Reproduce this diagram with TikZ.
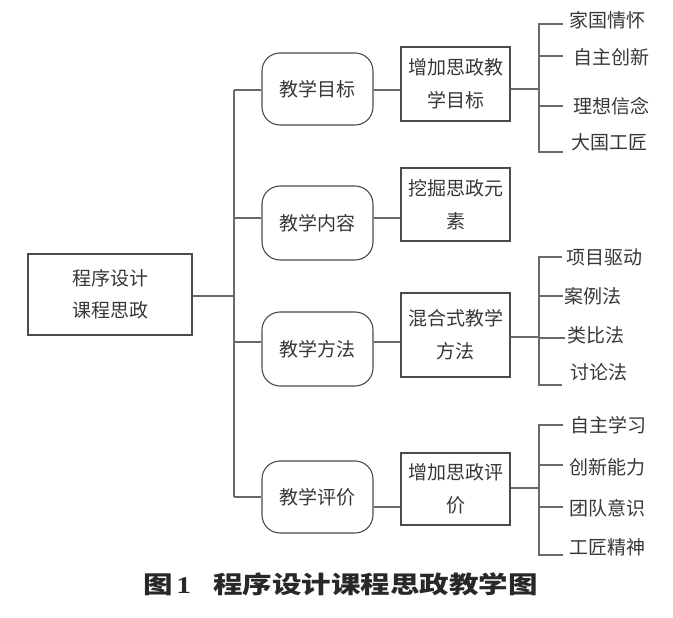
\documentclass[tikz,border=0pt]{standalone}
\usepackage{fontspec}
\newfontfamily\cjk{Noto Sans CJK SC}
\newfontfamily\serifnum{Liberation Serif}
\definecolor{linec}{RGB}{105,105,105}
\definecolor{boxc}{RGB}{75,75,75}
\definecolor{txtc}{RGB}{55,55,55}
\definecolor{capc}{RGB}{40,40,40}
\begin{document}
\begin{tikzpicture}[x=1pt,y=-1pt,
  every node/.style={text=txtc},
  conn/.style={draw=linec,line width=1.1pt},
  rootbox/.style={draw=boxc,line width=1.1pt,minimum width=164pt,minimum height=81pt,inner sep=0pt,align=center,font=\cjk\fontsize{19}{32}\selectfont},
  lonebox/.style={draw=boxc,line width=1.1pt,rounded corners=18pt,minimum width=111pt,inner sep=0pt,align=center,font=\cjk\fontsize{19}{32}\selectfont},
  ltwobox/.style={draw=boxc,line width=1.1pt,minimum width=109pt,inner sep=0pt,align=center,font=\cjk\fontsize{19}{33}\selectfont},
  leaf/.style={anchor=west,inner sep=0pt,font=\cjk\fontsize{19}{22}\selectfont},
  captxt/.style={inner sep=0pt,text=capc,font=\cjk\bfseries\fontsize{24}{28}\selectfont}
]
\useasboundingbox (0,0) rectangle (673,618);

% boxes
\node[rootbox] (root) at (110,294.5) {程序设计\\课程思政};
\node[lonebox,minimum height=72pt] (b1) at (317.5,89) {教学目标};
\node[lonebox,minimum height=74pt] (b2) at (317.5,223) {教学内容};
\node[lonebox,minimum height=74pt] (b3) at (317.5,349) {教学方法};
\node[lonebox,minimum height=72pt] (b4) at (317.5,497) {教学评价};
\node[ltwobox,minimum height=74pt] (c1) at (455.5,84) {增加思政教\\学目标};
\node[ltwobox,minimum height=73pt] (c2) at (455.5,204.5) {挖掘思政元\\素};
\node[ltwobox,minimum height=84pt] (c3) at (455.5,335) {混合式教学\\方法};
\node[ltwobox,minimum height=72pt] (c4) at (455.5,489) {增加思政评\\价};

% leaves
\node[leaf] (l11) at (569,20) {家国情怀};
\node[leaf] (l12) at (573,57) {自主创新};
\node[leaf] (l13) at (573,106) {理想信念};
\node[leaf] (l14) at (571,142) {大国工匠};
\node[leaf] (l31) at (566,257) {项目驱动};
\node[leaf] (l32) at (564,296) {案例法};
\node[leaf] (l33) at (567,335) {类比法};
\node[leaf] (l34) at (570,372) {讨论法};
\node[leaf] (l41) at (570,425) {自主学习};
\node[leaf] (l42) at (569,467) {创新能力};
\node[leaf] (l43) at (569,508) {团队意识};
\node[leaf] (l44) at (569,547) {工匠精神};

% trunk
\coordinate (t0) at (234,296);
\coordinate (t1) at (234,90);
\coordinate (t2) at (234,218);
\coordinate (t3) at (234,342);
\coordinate (t4) at (234,497);
\draw[conn] (root.east |- t0) -- (t0);
\draw[conn] (t1) -- (t4);
\draw[conn] (t1) -- (t1 -| b1.west);
\draw[conn] (t2) -- (t2 -| b2.west);
\draw[conn] (t3) -- (t3 -| b3.west);
\draw[conn] (t4) -- (t4 -| b4.west);

% level 1 to level 2
\coordinate (m1) at (387,90);
\coordinate (m2) at (387,218);
\coordinate (m3) at (387,342);
\coordinate (m4) at (387,507);
\draw[conn] (m1 -| b1.east) -- (m1 -| c1.west);
\draw[conn] (m2 -| b2.east) -- (m2 -| c2.west);
\draw[conn] (m3 -| b3.east) -- (m3 -| c3.west);
\draw[conn] (m4 -| b4.east) -- (m4 -| c4.west);

% level 2 to brackets
\coordinate (k1) at (539,89);
\coordinate (k3) at (539,337);
\coordinate (k4) at (539,488);
\draw[conn] (k1 -| c1.east) -- (k1);
\draw[conn] (k3 -| c3.east) -- (k3);
\draw[conn] (k4 -| c4.east) -- (k4);

% bracket group 1
\coordinate (g1a) at (563,24);
\coordinate (g1b) at (563,56);
\coordinate (g1c) at (563,106);
\coordinate (g1d) at (563,152);
\draw[conn] (g1a) -- (g1a -| k1) -- (g1d -| k1) -- (g1d);
\draw[conn] (g1b -| k1) -- (g1b);
\draw[conn] (g1c -| k1) -- (g1c);

% bracket group 3
\coordinate (g3a) at (562,257);
\coordinate (g3b) at (563,296);
\coordinate (g3c) at (565,338);
\coordinate (g3d) at (562,385);
\draw[conn] (g3a) -- (g3a -| k3) -- (g3d -| k3) -- (g3d);
\draw[conn] (g3b -| k3) -- (g3b);
\draw[conn] (g3c -| k3) -- (g3c);

% bracket group 4
\coordinate (g4a) at (563,425);
\coordinate (g4b) at (563,465);
\coordinate (g4c) at (563,507);
\coordinate (g4d) at (563,555);
\draw[conn] (g4a) -- (g4a -| k4) -- (g4d -| k4) -- (g4d);
\draw[conn] (g4b -| k4) -- (g4b);
\draw[conn] (g4c -| k4) -- (g4c);

% caption
\node[captxt] (cap) at (340.5,584) {\scalebox{1.23}[1]{图\hspace{3pt}{\serifnum\bfseries 1}\hspace{18pt}程序设计课程思政教学图}};
\end{tikzpicture}
\end{document}
